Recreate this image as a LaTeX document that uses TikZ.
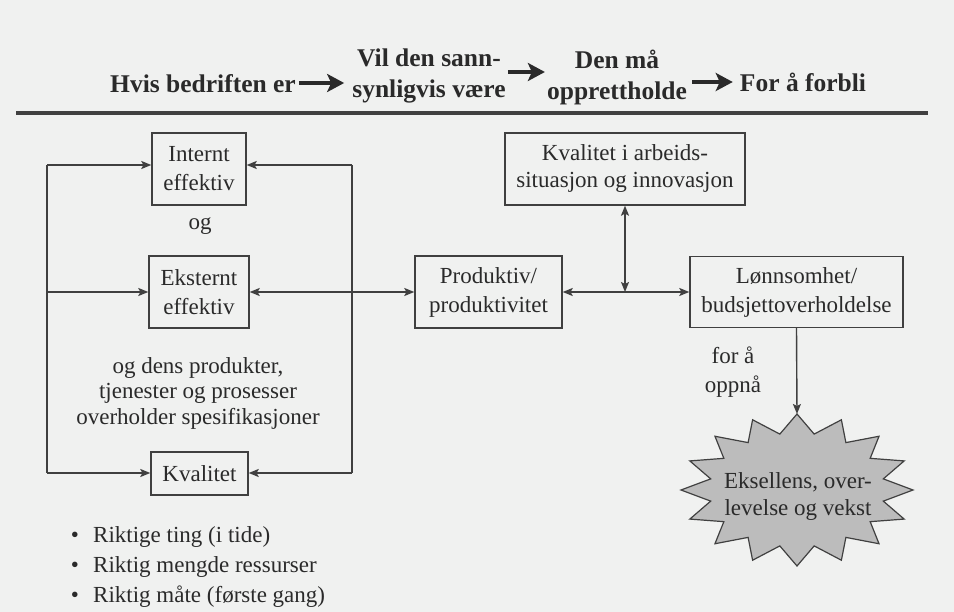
\documentclass[tikz,border=0pt]{standalone}
\usepackage{fontspec}
\setmainfont{Liberation Serif}
\usetikzlibrary{arrows.meta}
\definecolor{bg}{HTML}{F0F1F0}
\definecolor{ink}{HTML}{2A2A2A}
\definecolor{ln}{HTML}{404040}
\definecolor{starfill}{HTML}{BCBCBC}
\newcommand\bodyfnt{\fontsize{23}{29}\selectfont}
\newcommand\headfnt{\fontsize{25.5}{31}\selectfont\bfseries}
\begin{document}
\begin{tikzpicture}[x=1pt,y=-1pt,
  box/.style={draw=ln,line width=1.4pt,inner sep=0pt,align=center,text=ink,font=\bodyfnt},
  txt/.style={inner sep=0pt,align=center,text=ink,font=\bodyfnt},
  headtxt/.style={inner sep=0pt,align=center,text=ink,font=\headfnt},
  conn/.style={draw=ln,line width=1.4pt},
  tip/.style={-{Stealth[length=10pt,width=8pt,inset=2pt]}},
  tips/.style={{Stealth[length=10pt,width=8pt,inset=2pt]}-{Stealth[length=10pt,width=8pt,inset=2pt]}},
  headarrow/.style={draw=ink,line width=3.2pt,-{Stealth[length=17pt,width=18pt,inset=4pt]}}]
\fill[bg] (0,0) rectangle (954,612);
\useasboundingbox (0,0) rectangle (954,612);

% heading
\node[headtxt] (hvis) at (203,84) {Hvis bedriften er};
\node[headtxt] (vil) at (429,76) {Vil den sann-\\synligvis være};
\node[headtxt] (den) at (617,77) {Den må\\opprettholde};
\node[headtxt] (forbli) at (803,82) {For å forbli};
\coordinate (h1) at (hvis.east |- 0,83);
\draw[headarrow, shorten <=3pt, shorten >=8pt] (h1) -- (h1 -| vil.west);
\coordinate (v1) at (vil.east |- 0,72);
\draw[headarrow, shorten <=2pt, shorten >=2pt] (v1) -- (v1 -| den.west);
\coordinate (d1) at (den.east |- 0,82);
\draw[headarrow, shorten <=5pt, shorten >=7pt] (d1) -- (d1 -| forbli.west);
\coordinate (r1) at (16,113);
\coordinate (r2) at (928,113);
\draw[ln, line width=3.5pt] (r1) -- (r2);

% left boxes
\node[box, minimum width=94pt, minimum height=72pt] (int) at (199,169) {Internt\\effektiv};
\node[txt] (og) at (200,226) {og};
\node[box, minimum width=100pt, minimum height=72pt] (eks) at (199,292) {Eksternt\\effektiv};
\node[txt, font=\fontsize{23}{25.5}\selectfont] (spec) at (198,393) {og dens produkter,\\tjenester og prosesser\\overholder spesifikasjoner};
\node[box, minimum width=97pt, minimum height=43pt] (kval) at (199.5,473.5) {Kvalitet};

% bullets
\node[txt, anchor=base west] (b1) at (93,542) {Riktige ting (i tide)};
\node[txt, anchor=base west] (b2) at (93,572) {Riktig mengde ressurser};
\node[txt, anchor=base west] (b3) at (93,602) {Riktig måte (første gang)};
\node[txt, anchor=base] (d1b) at (75,542) {•};
\node[txt, anchor=base] (d2b) at (75,572) {•};
\node[txt, anchor=base] (d3b) at (75,602) {•};

% right boxes
\node[box, minimum width=240pt, minimum height=72pt, font=\fontsize{23}{27}\selectfont] (kia) at (625,169) {Kvalitet i arbeids-\\situasjon og innovasjon};
\node[box, minimum width=147pt, minimum height=72pt] (prod) at (488.5,292) {Produktiv/\\produktivitet};
\node[box, minimum width=213pt, minimum height=71pt] (lonn) at (796.5,292) {Lønnsomhet/\\budsjettoverholdelse};
\node[txt] (forao) at (733,372) {for å\\oppnå};

% star
\coordinate (startop) at (797,414);
\filldraw[fill=starfill, draw=ln, line width=1.2pt] (startop)
  \foreach \a in {0,22.5,...,337.5}{ -- ({797+116*cos(90+\a)},{490-76*sin(90+\a)}) -- ({797+88*cos(101.25+\a)},{490-57*sin(101.25+\a)}) } -- cycle;
\node[txt, font=\fontsize{23}{27}\selectfont] (star) at (798,497) {Eksellens, over-\\levelse og vekst};

% left loop
\coordinate (lt) at (47,165);
\coordinate (lm) at (47,292);
\coordinate (lb) at (47,473);
\coordinate (rt) at (352,165);
\coordinate (rb) at (352,473);
\draw[conn] (lt) -- (lb);
\draw[conn, tip] (lt) -- (lt -| int.west);
\draw[conn, tip] (lm) -- (lm -| eks.west);
\draw[conn, tip] (lb) -- (lb -| kval.west);
\draw[conn] (rt) -- (rb);
\draw[conn, tip] (rt) -- (rt -| int.east);
\draw[conn, tip] (rb) -- (rb -| kval.east);
\draw[conn, tips] (eks.east) -- (eks.east -| prod.west);

% right connections
\draw[conn, tips] (prod.east) -- (prod.east -| lonn.west);
\draw[conn, tips] (kia.south) -- (kia.south |- prod.east);
\draw[conn, tip] (lonn.south) -- (startop);
\end{tikzpicture}
\end{document}
